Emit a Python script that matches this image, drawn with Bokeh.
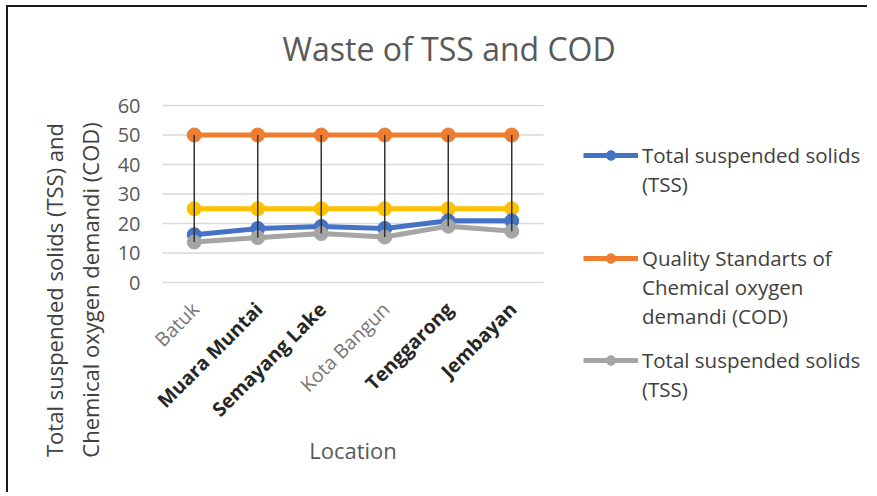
import numpy as np
from math import pi
from bokeh.plotting import figure
from bokeh.models import Legend, LegendItem, FixedTicker, ColumnDataSource, Range1d
from bokeh.core.properties import value
from bokeh.embed import file_html
from bokeh.resources import INLINE

# ---- data ----
locations = ["Batuk", "Muara Muntai", "Semayang Lake", "Kota Bangun", "Tenggarong", "Jembayan"]
label_style = ["normal", "bold", "bold", "normal", "bold", "bold"]
label_color = ["#767676", "#262626", "#262626", "#767676", "#262626", "#262626"]
tss_a = [16.2, 18.3, 19.0, 18.3, 20.9, 20.9]
cod_standard = [50, 50, 50, 50, 50, 50]
tss_standard = [25, 25, 25, 25, 25, 25]
tss_b = [13.7, 15.2, 16.6, 15.4, 19.1, 17.4]
y_ticks = [0, 10, 20, 30, 40, 50, 60]
legend_a = ["Total suspended solids", "(TSS)"]
legend_cod = ["Quality Standarts of", "Chemical oxygen", "demandi (COD)"]
legend_b = ["Total suspended solids", "(TSS)"]

FONT = "Open Sans"
TXT = "#595959"

n = len(locations)
xc = np.arange(n) + 0.5          # category centres on the x scale

p = figure(x_range=Range1d(-0.189, n + 5.134), y_range=Range1d(-71.86, 66.78),
           width=861, height=487, output_backend="svg", toolbar_location=None,
           min_border_left=142, min_border_right=0,
           min_border_top=78, min_border_bottom=0)
p.styles = {"box-shadow": "-2px -2px 0px 0px #1a1a1a",
            "margin-left": "8px", "margin-top": "7px"}
p.outline_line_color = None
p.xaxis.visible = False
p.xgrid.grid_line_color = None
p.ygrid.grid_line_color = None

p.title.text = "Waste of TSS and COD"
p.title.text_font = FONT
p.title.text_font_size = "32px"
p.title.text_font_style = "normal"
p.title.text_color = TXT
p.title.align = "left"
p.title.offset = 132
p.title.standoff = 32

p.yaxis.ticker = FixedTicker(ticks=y_ticks)
p.yaxis.axis_line_color = None
p.yaxis.major_tick_line_color = None
p.yaxis.minor_tick_line_color = None
p.yaxis.major_label_text_font = FONT
p.yaxis.major_label_text_font_size = "20px"
p.yaxis.major_label_text_color = TXT
p.yaxis.major_label_standoff = 4
p.yaxis.axis_label = "Total suspended solids (TSS) and\nChemical oxygen demandi (COD)"
p.yaxis.axis_label_text_font = FONT
p.yaxis.axis_label_text_font_size = "22px"
p.yaxis.axis_label_text_font_style = "normal"
p.yaxis.axis_label_text_color = "#404040"
p.yaxis.axis_label_standoff = 10

# horizontal gridlines over the category area only
p.segment(x0=0, x1=n, y0=y_ticks, y1=y_ticks, line_color="#d9d9d9", line_width=1.5)

series = [
    ("cod", cod_standard, "#ED7D31"),
    ("std", tss_standard, "#FFC000"),
    ("a", tss_a, "#4472C4"),
    ("b", tss_b, "#A5A5A5"),
]
rends = {}
for key, vals, col in series:
    r1 = p.line(xc, vals, line_width=5, line_color=col)
    r2 = p.scatter(xc, vals, size=14, fill_color=col, line_color=col)
    rends[key] = [r1, r2]

highs = np.max([tss_a, cod_standard, tss_standard, tss_b], axis=0)
lows = np.min([tss_a, cod_standard, tss_standard, tss_b], axis=0)
p.segment(x0=xc, y0=highs, x1=xc, y1=lows, line_color="#333333", line_width=1.5)

# category labels (rotated, individually styled)
lab_src = ColumnDataSource(dict(x=xc, text=locations, style=label_style, color=label_color))
p.text(x="x", y=0, text="text", source=lab_src, angle=pi / 4,
       x_offset=1, y_offset=23, text_align="right", text_baseline="middle",
       text_font=value(FONT), text_font_size="19.5px",
       text_font_style="style", text_color="color")

# x axis title
p.text(x=[n / 2], y=[0], text=["Location"], y_offset=167, text_align="center",
       text_baseline="middle", text_font=value(FONT), text_font_size="22px",
       text_color=TXT)

# legends: one per series, first line carries the glyph
blank = p.line(x=[], y=[], line_alpha=0)


def make_legend(lines, rs, loc):
    its = [LegendItem(label=lines[0], renderers=rs)]
    its += [LegendItem(label=t, renderers=[blank]) for t in lines[1:]]
    lg = Legend(items=its, location=loc, orientation="vertical")
    lg.glyph_width = 55
    lg.glyph_height = 24
    lg.label_height = 24
    lg.label_standoff = 4
    lg.label_text_font = FONT
    lg.label_text_font_size = "20.5px"
    lg.label_text_color = "#404040"
    lg.spacing = 1
    lg.padding = 0
    lg.margin = 0
    lg.border_line_color = None
    lg.background_fill_alpha = 0
    p.add_layout(lg, "center")


make_legend(legend_a, rends["a"], (433, 296))
make_legend(legend_cod, rends["cod"], (433, 164))
make_legend(legend_b, rends["b"], (433, 91))

open("out.html", "w").write(file_html(p, INLINE))
